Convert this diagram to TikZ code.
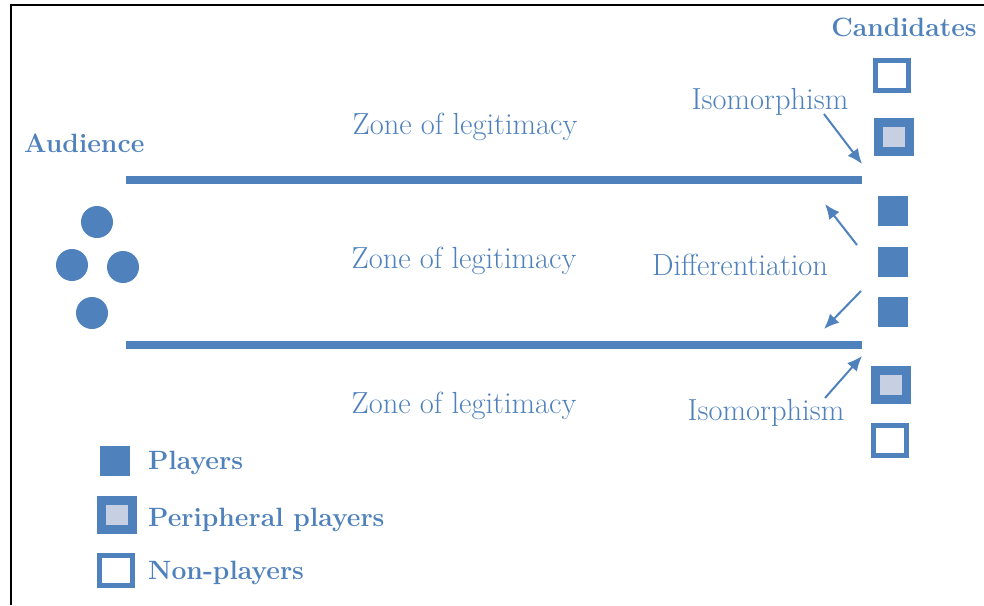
\documentclass[tikz,border=0pt]{standalone}
\usepackage{fontspec}
\usetikzlibrary{arrows.meta}
\definecolor{mainblue}{HTML}{4F81BD}
\definecolor{paleblue}{HTML}{C6D0E2}
\tikzset{
  lbl/.style={text=mainblue, font=\fontsize{30.5}{32}\selectfont, inner sep=0pt},
  heading/.style={text=mainblue, font=\fontsize{26.5}{28}\selectfont\bfseries, inner sep=0pt},
  boundary/.style={draw=mainblue, line width=8.5pt},
  person/.style={circle, fill=mainblue, minimum size=32pt, inner sep=0pt},
  player/.style={fill=mainblue, minimum size=30pt, inner sep=0pt},
  peripheral/.style={draw=mainblue, fill=paleblue, line width=8.5pt, minimum width=31pt, minimum height=29pt, inner sep=0pt},
  nonplayer/.style={draw=mainblue, fill=white, line width=5pt, minimum width=33pt, minimum height=30pt, inner sep=0pt},
  push/.style={draw=mainblue, line width=2pt, -{Latex[length=15pt,width=13pt]}},
  frameline/.style={draw=black, line width=2.6pt}
}
\begin{document}
\begin{tikzpicture}[x=1pt, y=-1pt]
  \useasboundingbox (0,0) rectangle (984,605);

  % partial frame: top and left edges
  \coordinate (fcorner) at (11,5);
  \coordinate (ftop) at (984,5);
  \coordinate (fleft) at (11,605);
  \draw[frameline] (ftop) -- (fcorner) -- (fleft);

  % headings
  \node[heading] (cand) at (904,27) {Candidates};
  \node[heading, anchor=west] (aud) at (24,143) {Audience};

  % audience members
  \node[person] (a1) at (97,222) {};
  \node[person] (a2) at (72,265) {};
  \node[person] (a3) at (123,267) {};
  \node[person] (a4) at (92,313) {};

  % boundaries of the zones of legitimacy
  \coordinate (b1l) at (126,180);
  \coordinate (b1r) at (862,180);
  \coordinate (b2l) at (126,345);
  \coordinate (b2r) at (862,345);
  \draw[boundary] (b1l) -- (b1r);
  \draw[boundary] (b2l) -- (b2r);

  % zone labels
  \node[lbl] (z1) at (465,127) {Zone of legitimacy};
  \node[lbl] (z2) at (464,261) {Zone of legitimacy};
  \node[lbl] (z3) at (464,406) {Zone of legitimacy};

  % candidates column
  \node[nonplayer] (c1) at (892,75) {};
  \node[peripheral] (c2) at (894,137) {};
  \node[player] (c3) at (893,211) {};
  \node[player] (c4) at (893,262) {};
  \node[player] (c5) at (893,312) {};
  \node[peripheral] (c6) at (891,385) {};
  \node[nonplayer] (c7) at (890,440) {};

  % movement labels
  \node[lbl] (iso1) at (770,102) {Isomorphism};
  \node[lbl] (diff) at (740,265) {Differentiation};
  \node[lbl] (iso2) at (766,413) {Isomorphism};

  % movement arrows
  \coordinate (i1s) at (824,114);
  \coordinate (i1e) at (862,164);
  \coordinate (d1s) at (857,245);
  \coordinate (d1e) at (825,204);
  \coordinate (d2s) at (861,291);
  \coordinate (d2e) at (824,329);
  \coordinate (i2s) at (825,398);
  \coordinate (i2e) at (862,356);
  \draw[push] (i1s) -- (i1e);
  \draw[push] (d1s) -- (d1e);
  \draw[push] (d2s) -- (d2e);
  \draw[push] (i2s) -- (i2e);

  % legend
  \node[player] (k1) at (115,461) {};
  \node[peripheral] (k2) at (117,515) {};
  \node[nonplayer] (k3) at (116,570) {};
  \node[heading, anchor=west] (k1t) at (148,463) {Players};
  \node[heading, anchor=west] (k2t) at (148,520) {Peripheral players};
  \node[heading, anchor=west] (k3t) at (148,573) {Non-players};
\end{tikzpicture}
\end{document}
